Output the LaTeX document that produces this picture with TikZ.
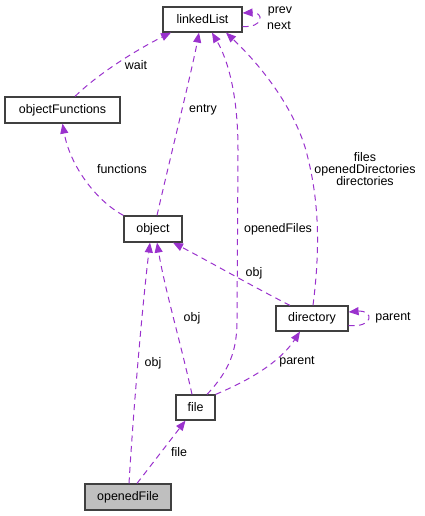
\documentclass[tikz,border=0pt]{standalone}
\usepackage{fontspec}
\setmainfont{Liberation Sans}
\usetikzlibrary{arrows.meta}
\definecolor{edgecol}{RGB}{154,50,205}
\definecolor{boxdraw}{RGB}{64,64,64}
\definecolor{boxgray}{RGB}{191,191,191}
\tikzset{
  cls/.style={draw=boxdraw,line width=1.2bp,fill=white,inner sep=0pt,minimum height=25bp,font=\fontsize{12.5}{14}\selectfont},
  rel/.style={draw=edgecol,line width=1bp,dash pattern=on 6bp off 4.5bp,-{Triangle[length=10bp,width=8bp]},fill=none},
  lbl/.style={inner sep=0pt,font=\fontsize{12.5}{14}\selectfont,align=center}
}
\begin{document}
\begin{tikzpicture}[x=1bp,y=-1bp]
\useasboundingbox (0,0) rectangle (424,516);
% classes
\node[cls,minimum width=79bp] (ll) at (202.5,19.5) {linkedList};
\node[cls,minimum width=115bp,minimum height=26bp] (of) at (62.5,110) {objectFunctions};
\node[cls,minimum width=58bp,minimum height=26bp] (obj) at (153,229) {object};
\node[cls,minimum width=72bp] (dir) at (312,318.5) {directory};
\node[cls,minimum width=39bp] (file) at (195.5,407.5) {file};
\node[cls,minimum width=86bp,minimum height=26bp,fill=boxgray] (opf) at (128,497) {openedFile};
% connectors
\draw[rel] ([xshift=12.5bp]of.north) .. controls (100,72) and (140,48) .. ([xshift=-31.5bp]ll.south);
\draw[rel] (obj.north west) .. controls (95,200) and (70,165) .. (of.south);
\draw[rel] ([xshift=4bp]obj.north) .. controls (172,150) and (192,70) .. ([xshift=-3.5bp]ll.south);
\draw[rel] ([xshift=11.5bp]file.north) .. controls (230,370) and (237,350) .. (237,320) -- (238,150) .. controls (238,95) and (228,60) .. ([xshift=9.5bp]ll.south);
\draw[rel] ([xshift=1bp]dir.north) .. controls (320,250) and (320,200) .. (305,147) .. controls (290,100) and (255,60) .. ([xshift=23.5bp]ll.south);
\draw[rel] ([yshift=-7bp]ll.east) .. controls (264,28) and (264,12) .. ([yshift=6.5bp]ll.east);
\draw[rel] ([xshift=-22bp]dir.north) .. controls (250,285) and (210,262) .. ([xshift=20bp]obj.south);
\draw[rel] ([xshift=-3.5bp]file.north) .. controls (180,340) and (165,290) .. ([xshift=4bp]obj.south);
\draw[rel] ([xshift=1bp]opf.north) .. controls (134,400) and (143,300) .. ([xshift=-3bp]obj.south);
\draw[rel] (file.north east) .. controls (250,380) and (280,362) .. ([xshift=-12bp]dir.south);
\draw[rel] ([yshift=-7bp]dir.east) .. controls (374,328) and (374,310) .. ([yshift=6.5bp]dir.east);
\draw[rel] ([xshift=9bp]opf.north) -- ([xshift=-10bp]file.south);
% labels
\node[lbl] (lwait) at (136,65) {wait};
\node[lbl] (lfunc) at (122,169) {functions};
\node[lbl] (lentry) at (203,110) {entry};
\node[lbl] (lopen) at (278,229) {openedFiles};
\node[lbl] (lfiles) at (365,169) {files\\[-2bp]openedDirectories\\[-2bp]directories};
\node[lbl] (lprev) at (280,11) {prev};
\node[lbl] (lnext) at (279,26) {next};
\node[lbl] (lobj1) at (254,273) {obj};
\node[lbl] (lobj2) at (192,318) {obj};
\node[lbl] (lobj3) at (153,363) {obj};
\node[lbl] (lpar1) at (297,362) {parent};
\node[lbl] (lpar2) at (393,318) {parent};
\node[lbl] (lfile) at (179,452) {file};
\end{tikzpicture}
\end{document}
